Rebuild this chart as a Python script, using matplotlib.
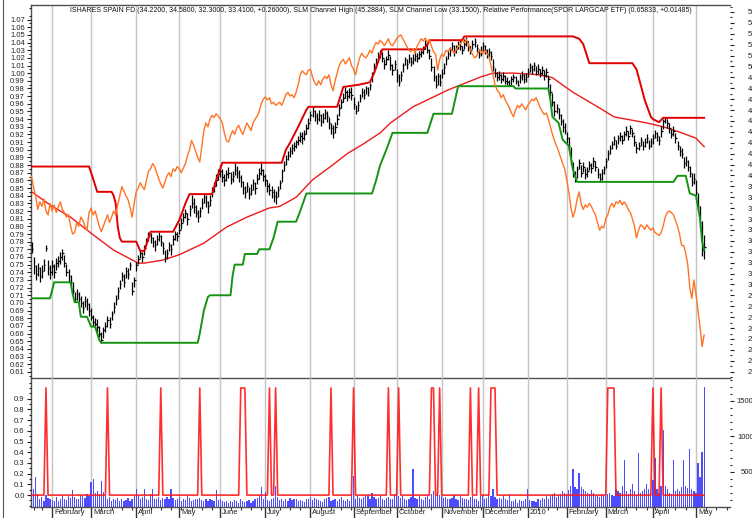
import numpy as np
import pandas as pd
import matplotlib
matplotlib.use("Agg")
import matplotlib.pyplot as plt
from matplotlib.ticker import FixedLocator, FormatStrFormatter, NullFormatter
from matplotlib.lines import Line2D

plt.rcParams['font.family'] = ['Liberation Sans', 'DejaVu Sans']
plt.rcParams['font.size'] = 5.5

# ---------------- trading calendar ----------------
start_date, end_date = '2009-01-16', '2010-05-07'
holidays = ['2009-01-19', '2009-02-16', '2009-04-10', '2009-05-25', '2009-07-03',
            '2009-09-07', '2009-11-26', '2009-12-25', '2010-01-01', '2010-01-18',
            '2010-02-15', '2010-04-02']
dates = pd.bdate_range(start_date, end_date)
dates = dates[~dates.isin(pd.to_datetime(holidays))]

# ---------------- data ----------------
closes = [33.23, 31.68, 30.98, 31.47, 30.77, 31.26, 31.82, 33.37, 31.47, 31.12,
          31.68, 31.12, 31.96, 32.17, 32.52, 32.87, 31.96, 31.12, 30.77, 30.27,
          29.36, 28.66, 29.15, 28.66, 28.31, 27.81, 28.52, 28.17, 27.60, 27.04,
          26.55, 26.34, 26.06, 25.49, 24.93, 25.84, 26.20, 26.76, 26.34, 27.25,
          27.95, 28.66, 29.36, 30.06, 30.77, 30.27, 31.26, 30.98, 31.82, 29.36,
          30.41, 31.82, 32.38, 32.87, 32.52, 33.37, 34.07, 34.49, 34.28, 33.93,
          33.58, 34.14, 34.49, 33.93, 33.37, 32.52, 32.87, 33.58, 33.23, 34.14,
          34.63, 34.49, 34.98, 35.68, 36.18, 36.60, 36.04, 36.88, 37.44, 37.09,
          36.60, 36.18, 36.74, 37.44, 38.00, 37.58, 37.16, 37.79, 38.50, 38.99,
          39.55, 40.11, 40.39, 39.90, 39.55, 40.11, 40.25, 39.69, 39.97, 40.53,
          40.25, 39.90, 39.41, 38.85, 38.50, 38.99, 38.29, 38.71, 39.27, 38.85,
          39.69, 40.25, 40.53, 39.97, 39.55, 38.99, 38.71, 38.50, 38.15, 38.00,
          38.71, 39.27, 40.39, 40.96, 41.52, 41.87, 42.22, 42.50, 42.71, 43.06,
          43.21, 43.63, 43.42, 43.77, 44.33, 44.82, 45.52, 45.88, 45.45, 45.17,
          45.59, 45.03, 45.31, 45.73, 45.45, 44.82, 44.33, 43.91, 44.47, 45.17,
          46.23, 46.72, 47.14, 47.63, 47.28, 47.63, 47.42, 46.58, 45.88, 46.44,
          47.14, 47.63, 47.42, 47.98, 47.70, 48.27, 49.25, 49.95, 50.44, 50.94,
          51.22, 50.80, 50.23, 50.65, 51.08, 50.09, 49.67, 50.23, 49.04, 48.55,
          49.25, 50.09, 50.65, 50.23, 50.80, 50.44, 50.65, 50.94, 50.80, 51.15,
          51.36, 51.64, 52.06, 51.50, 50.94, 49.95, 49.04, 48.34, 49.11, 48.55,
          49.39, 49.95, 50.65, 51.15, 51.50, 51.85, 51.36, 51.64, 52.06, 51.92,
          51.50, 52.06, 52.34, 51.85, 51.50, 52.06, 52.20, 51.71, 51.15, 51.50,
          51.85, 51.50, 51.15, 51.36, 50.94, 49.95, 49.39, 49.04, 49.25, 48.83,
          49.11, 48.69, 48.55, 48.34, 48.83, 49.04, 48.69, 48.34, 49.04, 49.25,
          48.83, 49.04, 49.53, 49.95, 49.74, 50.09, 49.60, 49.81, 49.39, 49.67,
          49.25, 49.53, 48.83, 47.63, 46.72, 45.88, 46.23, 45.52, 45.03, 44.47,
          44.12, 43.42, 42.71, 41.31, 40.25, 39.69, 40.60, 41.10, 40.25, 40.82,
          40.11, 40.39, 40.96, 40.67, 41.31, 40.82, 40.11, 39.69, 40.25, 40.60,
          41.31, 42.01, 42.50, 42.92, 43.21, 42.71, 43.42, 43.63, 43.21, 43.77,
          44.12, 43.63, 44.33, 43.91, 43.06, 42.50, 42.71, 43.21, 42.71, 43.06,
          43.42, 42.71, 43.06, 43.42, 43.91, 43.63, 43.21, 44.12, 45.03, 45.31,
          44.82, 44.33, 43.77, 44.12, 43.42, 42.71, 42.22, 42.01, 41.10, 41.31,
          40.82, 40.25, 39.41, 39.69, 38.50, 37.20, 35.60, 33.15, 33.41]

highs = [33.9, 32.5, 31.8, 32.0, 31.6, 31.8, 32.3, 33.6, 32.2, 31.8,
         32.2, 31.9, 32.4, 32.6, 33.0, 33.3, 32.7, 31.9, 31.4, 30.9,
         30.2, 29.3, 29.6, 29.3, 28.9, 28.5, 28.9, 28.8, 28.3, 27.8,
         27.2, 26.9, 26.8, 26.2, 25.6, 26.1, 26.6, 27.1, 27.0, 27.6,
         28.4, 29.0, 29.8, 30.4, 31.1, 31.0, 31.6, 31.5, 32.1, 30.2,
         30.7, 32.1, 32.7, 33.2, 33.0, 33.6, 34.3, 34.8, 34.7, 34.4,
         34.1, 34.5, 34.8, 34.5, 33.9, 33.2, 33.3, 33.9, 33.7, 34.5,
         34.9, 34.8, 35.6, 36.1, 36.6, 36.9, 36.6, 37.3, 38.2, 37.9,
         37.3, 36.8, 37.1, 37.9, 38.3, 38.2, 37.7, 38.2, 38.9, 39.4,
         40.1, 40.6, 41.0, 40.6, 40.1, 40.5, 40.8, 40.3, 40.4, 41.1,
         40.9, 40.5, 40.0, 39.5, 39.0, 39.4, 38.9, 39.2, 39.7, 39.4,
         40.1, 40.7, 41.1, 40.6, 40.1, 39.6, 39.3, 39.0, 38.8, 38.6,
         39.0, 39.6, 40.6, 41.3, 41.9, 42.2, 42.6, 42.9, 43.1, 43.3,
         43.6, 44.0, 44.0, 44.2, 44.7, 45.3, 45.9, 46.3, 46.0, 45.7,
         46.0, 45.6, 45.7, 46.1, 45.9, 45.4, 44.8, 44.6, 44.9, 45.6,
         46.6, 47.0, 47.6, 48.1, 47.8, 48.0, 48.1, 47.2, 46.5, 46.8,
         47.5, 48.0, 47.9, 48.2, 48.1, 48.5, 49.5, 50.3, 50.8, 51.3,
         51.5, 51.3, 50.7, 51.0, 51.5, 51.0, 50.2, 50.6, 49.8, 49.3,
         49.6, 50.3, 50.9, 50.7, 51.1, 50.9, 51.1, 51.3, 51.2, 51.4,
         51.5, 51.9, 52.4, 52.3, 51.6, 50.8, 50.0, 49.2, 49.4, 49.3,
         49.8, 50.3, 51.0, 51.5, 51.8, 52.2, 52.0, 52.0, 52.3, 52.4,
         51.9, 52.5, 52.7, 52.3, 51.9, 52.4, 52.6, 52.1, 51.6, 51.9,
         52.2, 52.0, 51.6, 51.7, 51.4, 50.7, 49.9, 49.5, 49.6, 49.3,
         49.5, 49.2, 49.0, 48.8, 49.1, 49.3, 49.1, 48.8, 49.3, 49.6,
         49.3, 49.4, 49.9, 50.3, 50.1, 50.4, 50.0, 50.2, 49.8, 50.0,
         49.7, 49.9, 49.2, 48.4, 47.6, 46.8, 46.6, 46.2, 45.6, 45.2,
         44.8, 44.0, 43.5, 42.6, 41.2, 40.4, 40.9, 41.5, 41.0, 41.2,
         40.7, 40.8, 41.3, 41.1, 41.7, 41.3, 40.7, 40.2, 40.6, 40.9,
         41.6, 42.3, 42.8, 43.2, 43.6, 43.3, 43.7, 44.0, 43.7, 44.1,
         44.5, 44.1, 44.6, 44.3, 43.7, 43.0, 43.1, 43.5, 43.2, 43.4,
         43.8, 43.3, 43.4, 43.8, 44.2, 44.0, 43.6, 44.5, 45.2, 45.29,
         45.2, 44.8, 44.3, 44.5, 43.9, 43.2, 42.7, 42.5, 41.7, 41.8,
         41.4, 40.9, 40.2, 40.2, 39.6, 38.4, 37.2, 35.8, 34.58]

lows = [32.9, 31.0, 30.4, 30.8, 30.2, 30.6, 31.2, 33.1, 30.9, 30.5,
        30.9, 30.6, 31.3, 31.6, 31.9, 32.2, 31.6, 30.8, 30.2, 29.9,
        29.1, 28.4, 28.6, 28.4, 27.9, 27.4, 27.9, 27.7, 27.1, 26.7,
        26.2, 25.9, 25.6, 25.2, 24.65, 25.1, 25.6, 26.1, 26.0, 26.7,
        27.4, 28.1, 28.7, 29.6, 30.3, 29.8, 30.6, 30.5, 31.3, 29.0,
        29.8, 31.2, 31.9, 32.4, 32.1, 32.7, 33.6, 34.0, 33.8, 33.4,
        33.1, 33.6, 34.0, 33.5, 32.8, 32.1, 32.3, 33.1, 32.7, 33.6,
        34.1, 34.0, 34.6, 35.1, 35.7, 36.1, 35.5, 36.3, 37.0, 36.6,
        36.2, 35.7, 36.2, 36.9, 37.5, 37.1, 36.6, 37.2, 38.0, 38.5,
        39.0, 39.6, 39.9, 39.4, 39.0, 39.5, 39.8, 39.2, 39.4, 40.0,
        39.8, 39.4, 38.9, 38.3, 37.9, 38.5, 37.8, 38.2, 38.7, 38.3,
        39.2, 39.7, 40.0, 39.5, 39.0, 38.5, 38.2, 37.9, 37.6, 37.4,
        38.0, 38.8, 39.4, 40.4, 41.0, 41.4, 41.7, 42.0, 42.2, 42.5,
        42.8, 43.1, 42.9, 43.3, 43.8, 44.3, 45.0, 45.4, 45.0, 44.7,
        45.0, 44.5, 44.8, 45.2, 44.9, 44.3, 43.8, 43.4, 43.9, 44.6,
        45.5, 46.2, 46.7, 47.1, 46.8, 47.1, 46.9, 46.1, 45.6, 45.9,
        46.7, 47.2, 47.0, 47.5, 47.3, 47.8, 48.6, 49.4, 49.9, 50.5,
        50.8, 50.4, 49.8, 50.1, 50.6, 49.7, 49.2, 49.7, 48.6, 48.2,
        48.7, 49.5, 50.1, 49.8, 50.3, 50.0, 50.2, 50.5, 50.4, 50.7,
        50.9, 51.1, 51.6, 51.2, 50.7, 49.6, 48.7, 48.0, 48.3, 48.2,
        48.9, 49.3, 50.1, 50.7, 51.0, 51.4, 51.0, 51.2, 51.6, 51.5,
        51.1, 51.6, 51.9, 51.4, 51.1, 51.6, 51.8, 51.3, 50.8, 51.0,
        51.4, 51.1, 50.8, 50.9, 50.6, 49.6, 49.0, 48.7, 48.8, 48.5,
        48.7, 48.4, 48.3, 48.2, 48.3, 48.6, 48.4, 48.2, 48.5, 48.8,
        48.5, 48.6, 49.0, 49.5, 49.3, 49.6, 49.2, 49.3, 49.0, 49.2,
        48.8, 49.0, 48.0, 47.3, 46.4, 45.5, 45.7, 45.2, 44.6, 44.0,
        43.8, 43.0, 42.3, 41.0, 39.9, 39.4, 39.8, 40.6, 39.9, 40.3,
        39.7, 39.9, 40.5, 40.2, 40.8, 40.4, 39.8, 39.45, 39.6, 40.1,
        40.7, 41.4, 42.0, 42.4, 42.8, 42.4, 42.9, 43.2, 42.9, 43.3,
        43.6, 43.3, 43.8, 43.5, 42.7, 42.1, 42.3, 42.7, 42.3, 42.6,
        43.0, 42.4, 42.6, 42.9, 43.4, 43.2, 42.8, 43.5, 44.3, 44.8,
        44.4, 43.9, 43.4, 43.6, 43.0, 42.3, 41.8, 41.6, 40.7, 40.9,
        40.4, 39.9, 39.0, 39.2, 38.1, 36.9, 35.2, 32.6, 32.30]

rel_perf = [0.865, 0.850, 0.840, 0.822, 0.832, 0.826, 0.836, 0.820, 0.815, 0.830,
            0.820, 0.828, 0.818, 0.825, 0.832, 0.822, 0.818, 0.812, 0.815, 0.800,
            0.790, 0.792, 0.805, 0.800, 0.812, 0.808, 0.800, 0.795, 0.818, 0.824,
            0.815, 0.820, 0.810, 0.800, 0.793, 0.800, 0.808, 0.815, 0.805, 0.812,
            0.820, 0.815, 0.828, 0.840, 0.852, 0.846, 0.840, 0.835, 0.825, 0.812,
            0.830, 0.845, 0.850, 0.857, 0.852, 0.848, 0.860, 0.872, 0.875, 0.882,
            0.878, 0.870, 0.862, 0.855, 0.850, 0.858, 0.866, 0.870, 0.865, 0.875,
            0.872, 0.878, 0.875, 0.870, 0.876, 0.882, 0.892, 0.900, 0.912, 0.906,
            0.898, 0.890, 0.884, 0.905, 0.925, 0.935, 0.930, 0.940, 0.945, 0.942,
            0.947, 0.944, 0.940, 0.935, 0.922, 0.912, 0.910, 0.918, 0.925, 0.920,
            0.928, 0.932, 0.925, 0.920, 0.928, 0.935, 0.930, 0.925, 0.935, 0.940,
            0.944, 0.950, 0.960, 0.966, 0.969, 0.965, 0.968, 0.960, 0.962, 0.958,
            0.960, 0.962, 0.958, 0.965, 0.972, 0.975, 0.970, 0.972, 0.968, 0.975,
            0.985, 0.998, 1.003, 1.000, 0.998, 1.004, 1.005, 0.995, 0.988, 0.984,
            0.990, 0.985, 0.992, 0.996, 0.993, 0.998, 0.985, 0.977, 0.990, 1.000,
            1.010, 1.015, 1.018, 1.012, 1.016, 1.020, 1.010, 1.005, 0.998, 1.010,
            1.020, 1.026, 1.022, 1.020, 1.024, 1.030, 1.026, 1.035, 1.040, 1.038,
            1.043, 1.040, 1.036, 1.040, 1.045, 1.038, 1.036, 1.040, 1.045, 1.048,
            1.050, 1.045, 1.040, 1.035, 1.030, 1.028, 1.032, 1.026, 1.035, 1.040,
            1.045, 1.042, 1.046, 1.040, 1.044, 1.035, 1.028, 1.025, 1.004, 1.018,
            1.025, 1.022, 1.030, 1.028, 1.032, 1.030, 1.026, 1.030, 1.035, 1.038,
            1.042, 1.040, 1.044, 1.038, 1.030, 1.025, 1.020, 1.022, 1.028, 1.030,
            1.025, 1.030, 1.026, 1.022, 1.010, 0.998, 0.985, 0.978, 0.975, 0.968,
            0.972, 0.965, 0.960, 0.955, 0.948, 0.943, 0.952, 0.958, 0.955, 0.960,
            0.956, 0.952, 0.958, 0.962, 0.966, 0.964, 0.968, 0.962, 0.955, 0.950,
            0.946, 0.948, 0.940, 0.930, 0.920, 0.912, 0.905, 0.898, 0.890, 0.882,
            0.875, 0.860, 0.845, 0.825, 0.812, 0.820, 0.835, 0.845, 0.830, 0.822,
            0.828, 0.825, 0.830, 0.826, 0.820, 0.815, 0.805, 0.795, 0.800, 0.798,
            0.810, 0.815, 0.825, 0.830, 0.825, 0.832, 0.830, 0.834, 0.828, 0.832,
            0.828, 0.822, 0.818, 0.810, 0.800, 0.785, 0.795, 0.802, 0.800, 0.796,
            0.802, 0.798, 0.795, 0.798, 0.792, 0.790, 0.788, 0.792, 0.800, 0.812,
            0.818, 0.820, 0.818, 0.815, 0.808, 0.800, 0.790, 0.775, 0.775, 0.765,
            0.750, 0.720, 0.706, 0.730, 0.712, 0.690, 0.668, 0.643, 0.658]

volume = [150, 260, 420, 180, 120, 140, 90, 170, 130, 110,
          100, 80, 140, 90, 120, 150, 110, 100, 160, 130,
          240, 140, 120, 110, 170, 160, 130, 180, 150, 360,
          400, 200, 230, 180, 370, 210, 160, 120, 140, 90,
          110, 100, 130, 90, 120, 80, 100, 130, 90, 110,
          150, 250, 160, 120, 140, 250, 120, 100, 180, 250,
          120, 110, 140, 100, 130, 120, 140, 110, 250, 130,
          100, 120, 140, 90, 110, 100, 160, 130, 90, 100,
          120, 110, 130, 100, 90, 110, 80, 120, 100, 90,
          240, 100, 110, 80, 70, 90, 60, 80, 70, 100,
          80, 60, 110, 90, 70, 80, 100, 60, 90, 110,
          130, 150, 290, 120, 210, 100, 90, 110, 130, 300,
          140, 100, 120, 80, 110, 90, 130, 100, 120, 110,
          80, 100, 90, 70, 110, 120, 140, 100, 130, 110,
          100, 90, 70, 110, 130, 140, 90, 100, 120, 80,
          110, 140, 100, 90, 120, 80, 180, 440, 120, 150,
          130, 110, 140, 150, 170, 120, 200, 140, 110, 130,
          150, 120, 100, 130, 140, 110, 120, 180, 220, 160,
          130, 150, 120, 100, 110, 140, 540, 130, 110, 150,
          120, 100, 140, 160, 120, 180, 230, 150, 200, 170,
          160, 130, 140, 120, 110, 130, 170, 120, 100, 150,
          130, 110, 120, 100, 140, 160, 120, 110, 80, 150,
          170, 120, 130, 190, 150, 260, 140, 120, 130, 110,
          150, 120, 100, 180, 90, 80, 110, 60, 100, 90,
          80, 120, 250, 100, 90, 80, 70, 120, 100, 130,
          110, 150, 120, 160, 180, 200, 140, 170, 190, 230,
          200, 180, 240, 300, 540, 280, 250, 480, 280, 260,
          220, 200, 180, 240, 200, 160, 150, 140, 190, 170,
          150, 180, 200, 170, 160, 250, 220, 200, 300, 670,
          230, 180, 250, 320, 220, 170, 760, 200, 230, 260,
          320, 250, 210, 380, 700, 250, 200, 300, 1090, 300,
          250, 200, 180, 660, 220, 250, 230, 280, 660, 300,
          270, 820, 260, 220, 200, 620, 420, 780, 1700]

signal_dates = ['2009-01-28', '2009-03-12', '2009-04-20', '2009-05-15',
                '2009-06-15', '2009-06-16', '2009-06-17', '2009-07-06', '2009-07-09',
                '2009-08-17', '2009-09-01', '2009-09-25', '2009-10-02',
                '2009-10-26', '2009-10-27', '2009-10-30', '2009-11-20', '2009-11-27',
                '2009-12-07', '2009-12-08', '2009-12-09',
                '2010-03-02', '2010-03-03', '2010-03-04', '2010-03-05',
                '2010-04-01', '2010-04-08']

chan_high_dates = ['2009-01-16', '2009-02-27', '2009-03-03', '2009-03-05', '2009-03-16',
                   '2009-03-17', '2009-03-18', '2009-03-19', '2009-03-20', '2009-03-23',
                   '2009-04-01', '2009-04-03', '2009-04-07', '2009-04-13', '2009-04-28',
                   '2009-05-01', '2009-05-04', '2009-05-06', '2009-05-08', '2009-05-26',
                   '2009-05-28', '2009-06-01', '2009-06-02', '2009-07-14', '2009-07-16',
                   '2009-07-20', '2009-07-24', '2009-07-30', '2009-07-31', '2009-08-20',
                   '2009-08-25', '2009-09-04', '2009-09-14', '2009-09-16', '2009-09-18',
                   '2009-09-22', '2009-10-20', '2009-10-22', '2009-10-23', '2009-11-16',
                   '2009-11-17', '2010-02-04', '2010-02-09', '2010-02-11', '2010-02-17',
                   '2010-03-18', '2010-03-22', '2010-03-24', '2010-03-26', '2010-03-31',
                   '2010-04-01', '2010-04-07', '2010-04-09', '2010-05-07']
chan_high_vals = [40.82, 40.82, 39.69, 38.50, 38.50,
                  38.15, 37.44, 35.33, 34.28, 33.93,
                  33.93, 33.08, 33.08, 34.84, 34.84,
                  35.90, 36.39, 37.44, 38.29, 38.29,
                  39.55, 40.60, 41.17, 41.17, 42.36,
                  42.99, 44.47, 46.02, 46.30, 46.30,
                  48.12, 48.34, 48.55, 49.39, 50.44,
                  51.57, 51.57, 51.99, 52.41, 52.41,
                  52.76, 52.76, 52.55, 52.06, 50.30,
                  50.30, 49.74, 48.34, 46.93, 45.38,
                  45.17, 44.89, 45.29, 45.29]

chan_low_dates = ['2009-01-16', '2009-01-30', '2009-02-03', '2009-02-13', '2009-02-17',
                  '2009-02-18', '2009-02-20', '2009-02-23', '2009-02-26', '2009-03-02',
                  '2009-03-04', '2009-03-06', '2009-03-09', '2009-05-14', '2009-05-15',
                  '2009-05-19', '2009-05-21', '2009-05-22', '2009-06-08', '2009-06-09',
                  '2009-06-10', '2009-06-16', '2009-06-17', '2009-06-25', '2009-06-26',
                  '2009-07-06', '2009-07-08', '2009-07-10', '2009-07-23', '2009-07-27',
                  '2009-07-30', '2009-09-15', '2009-09-17', '2009-09-21', '2009-09-24',
                  '2009-09-29', '2009-10-22', '2009-10-27', '2009-11-09', '2009-11-12',
                  '2009-12-22', '2009-12-23', '2010-01-19', '2010-01-20', '2010-01-21',
                  '2010-01-26', '2010-01-28', '2010-02-02', '2010-02-04', '2010-02-08',
                  '2010-04-16', '2010-04-20', '2010-04-26', '2010-04-28', '2010-05-03',
                  '2010-05-04', '2010-05-05', '2010-05-06', '2010-05-07']
chan_low_vals = [28.73, 28.73, 30.20, 30.20, 29.15,
                 28.38, 28.38, 27.04, 27.04, 26.13,
                 26.13, 24.90, 24.65, 24.65, 25.49,
                 27.60, 28.87, 29.01, 29.01, 30.77,
                 31.82, 31.82, 32.80, 32.80, 33.23,
                 33.23, 34.28, 35.76, 35.76, 36.74,
                 38.35, 38.35, 39.55, 40.96, 42.36,
                 43.91, 43.91, 45.66, 45.66, 48.19,
                 48.19, 47.98, 47.98, 46.93, 45.38,
                 44.82, 43.28, 42.71, 40.53, 39.41,
                 39.41, 39.97, 39.97, 38.35, 38.15,
                 37.09, 36.04, 33.93, 33.15]

ma_dates = ['2009-01-16', '2009-01-30', '2009-02-13', '2009-03-02', '2009-03-17',
            '2009-04-02', '2009-04-07', '2009-04-21', '2009-05-01', '2009-05-19',
            '2009-06-04', '2009-06-18', '2009-07-06', '2009-07-13', '2009-07-23',
            '2009-08-04', '2009-08-17', '2009-08-27', '2009-09-09', '2009-09-21',
            '2009-09-28', '2009-10-13', '2009-11-05', '2009-11-30', '2009-12-08',
            '2009-12-22', '2010-01-11', '2010-01-21', '2010-02-04', '2010-02-23',
            '2010-03-05', '2010-03-29', '2010-04-09', '2010-04-21', '2010-05-03',
            '2010-05-07']
ma_vals = [38.50, 37.30, 36.18, 34.70, 33.15,
           31.96, 31.96, 32.24, 32.73, 33.79,
           35.26, 36.18, 37.02, 37.16, 38.00,
           39.60, 40.85, 42.01, 42.92, 43.91,
           44.82, 46.30, 47.84, 49.04, 49.39,
           49.39, 49.25, 48.97, 47.63, 46.30,
           45.38, 44.82, 44.47, 43.98, 43.42,
           42.64]

title = ("ISHARES SPAIN FD (34.2200, 34.5800, 32.3000, 33.4100, +0.26000), "
         "SLM Channel High (45.2884), SLM Channel Low (33.1500), "
         "Relative Performance(SPDR LARGCAP ETF) (0.65833, +0.01485)")

n = len(dates)
assert len(closes) == n and len(highs) == n and len(lows) == n
assert len(rel_perf) == n and len(volume) == n
assert len(chan_high_dates) == len(chan_high_vals)
assert len(chan_low_dates) == len(chan_low_vals)
assert len(ma_dates) == len(ma_vals)


def pos(ds):
    idx = dates.get_indexer(pd.to_datetime(ds))
    assert (idx >= 0).all(), ds
    return idx


x = np.arange(n)
signal = np.zeros(n)
signal[pos(signal_dates)] = 1.0

# month starts and week starts (calendar extended a little past the data)
ext = pd.bdate_range(start_date, '2010-05-28')
ext = ext[~ext.isin(pd.to_datetime(holidays))]
ext_x = np.arange(len(ext))
mkey = ext.year * 100 + ext.month
month_starts = ext_x[1:][mkey[1:] != mkey[:-1]]
wkey = ext.to_period('W')
week_starts = ext_x[1:][wkey[1:] != wkey[:-1]]
month_labels = ['2010' if (ext[i].month == 1) else ext[i].strftime('%B') for i in month_starts]

# ---------------- figure ----------------
W, H = 752, 518
fig = plt.figure(figsize=(W / 100, H / 100), dpi=100)
L, R = 31, 730
TOP, MID, BOT = 5, 378, 507
ax_p = fig.add_axes([L / W, 1 - MID / H, (R - L) / W, (MID - TOP) / H])
ax_rp = ax_p.twinx()
ax_v = fig.add_axes([L / W, 1 - BOT / H, (R - L) / W, (BOT - MID) / H])
ax_s = ax_v.twinx()

XMIN, XMAX = -0.3, 340.6
for a in (ax_p, ax_rp, ax_v, ax_s):
    a.set_xlim(XMIN, XMAX)
    a.patch.set_visible(False)
fig.patch.set_facecolor('white')

spine_c = '#505050'
grid_c = '#c4c4c4'
for a in (ax_p, ax_v):
    for m in month_starts:
        a.axvline(m, color=grid_c, lw=1.0, zorder=0)

# ---- main panel (price on right axis) ----
ax_p.set_ylim(21.42, 55.64)
ax_p.plot(pos(ma_dates), ma_vals, color='#ee1a1a', lw=1.0, zorder=2)
ax_p.vlines(x, lows, highs, color='black', lw=0.9, zorder=3)
ax_p.hlines(closes, x, x + 0.7, color='black', lw=0.9, zorder=3)
ax_p.plot(pos(chan_high_dates), chan_high_vals, color='#e00000', lw=1.4, zorder=4)
ax_p.plot(pos(chan_low_dates), chan_low_vals, color='#149414', lw=1.4, zorder=4)

ax_rp.set_ylim(0.602, 1.089)
ax_rp.plot(x, rel_perf, color='#ff7424', lw=1.0, zorder=5)

ax_rp.text(0.5, 1 - 6 / (MID - TOP), title, transform=ax_rp.transAxes,
           ha='center', va='center', fontsize=5.05, color='#111111')

# axes / ticks main
ax_p.yaxis.tick_right()
ax_rp.yaxis.tick_left()
ax_p.yaxis.set_major_locator(FixedLocator(np.arange(22, 56, 1)))
ax_p.yaxis.set_major_formatter(FormatStrFormatter('%d'))
ax_p.yaxis.set_minor_locator(FixedLocator(np.arange(21.5, 55.6, 0.5)))
ax_p.tick_params(axis='y', which='major', length=3, width=0.8, pad=10, labelsize=5.5, colors='#222222')
ax_p.tick_params(axis='y', which='minor', length=1.5, width=0.8, colors='#222222')
ax_p.tick_params(axis='x', which='both', bottom=False, top=False, labelbottom=False)
ax_rp.tick_params(axis='x', which='both', bottom=False, top=False, labelbottom=False)

ax_rp.yaxis.set_major_locator(FixedLocator(np.round(np.arange(0.61, 1.0705, 0.01), 2)))
ax_rp.yaxis.set_major_formatter(FormatStrFormatter('%.2f'))
ax_rp.yaxis.set_minor_locator(FixedLocator(np.round(np.arange(0.605, 1.086, 0.01), 3)))
ax_rp.tick_params(axis='y', which='major', length=3, width=0.8, pad=1.5, labelsize=5.5, colors='#222222')
ax_rp.tick_params(axis='y', which='minor', length=1.5, width=0.8, colors='#222222')

ax_p.spines['right'].set_visible(False)
for s in ('top', 'left', 'bottom'):
    ax_p.spines[s].set_color(spine_c)
    ax_p.spines[s].set_linewidth(1.0)
for s in ax_rp.spines.values():
    s.set_visible(False)

# ---- lower panel ----
ax_v.set_ylim(0, 1825)
ax_v.bar(x, volume, width=0.6, color='#4d4dff', edgecolor='none', zorder=2)
ax_s.set_ylim(-0.111, 1.093)
ax_s.plot(x, signal, color='#ff1818', lw=1.2, alpha=0.9, zorder=3)

ax_v.yaxis.tick_right()
ax_s.yaxis.tick_left()
ax_v.yaxis.set_major_locator(FixedLocator([500, 1000, 1500]))
ax_v.yaxis.set_major_formatter(FormatStrFormatter('%d'))
ax_v.yaxis.set_minor_locator(FixedLocator(np.arange(100, 1801, 100)))
ax_v.tick_params(axis='y', which='major', length=3, width=0.8, pad=14, labelsize=5.5, colors='#222222')
ax_v.tick_params(axis='y', which='minor', length=1.5, width=0.8, colors='#222222')
for t in ax_v.get_yticklabels():
    t.set_horizontalalignment('right')

ax_s.yaxis.set_major_locator(FixedLocator(np.round(np.arange(0.0, 0.95, 0.1), 1)))
ax_s.yaxis.set_major_formatter(FormatStrFormatter('%.1f'))
ax_s.yaxis.set_minor_locator(FixedLocator(np.round(np.arange(-0.1, 1.09, 0.05), 2)))
ax_s.tick_params(axis='y', which='major', length=3, width=0.8, pad=1.5, labelsize=5.5, colors='#222222')
ax_s.tick_params(axis='y', which='minor', length=1.5, width=0.8, colors='#222222')
ax_s.tick_params(axis='x', which='both', bottom=False, top=False, labelbottom=False)

ax_v.xaxis.set_major_locator(FixedLocator(month_starts))
ax_v.xaxis.set_major_formatter(NullFormatter())
ax_v.xaxis.set_minor_locator(FixedLocator(week_starts))
ax_v.tick_params(axis='x', which='major', length=8.5, width=1.0, colors='#333333')
ax_v.tick_params(axis='x', which='minor', length=2, width=0.8, colors='#333333')
for m, lab in zip(month_starts, month_labels):
    ax_v.annotate(lab, xy=(m, 0), xycoords=('data', 'axes fraction'),
                  xytext=(2, -6), textcoords='offset pixels', ha='left', va='center',
                  fontsize=5.5, color='#222222', annotation_clip=False)

for s in ('top', 'right'):
    ax_v.spines[s].set_visible(False)
for s in ('left', 'bottom'):
    ax_v.spines[s].set_color(spine_c)
    ax_v.spines[s].set_linewidth(1.0)
for s in ax_s.spines.values():
    s.set_visible(False)

# outer frame line on the far left
fig.add_artist(Line2D([2.5 / W, 2.5 / W], [0, 1], transform=fig.transFigure,
                      color='#555555', lw=0.8))

fig.savefig('out.png', dpi=100)
